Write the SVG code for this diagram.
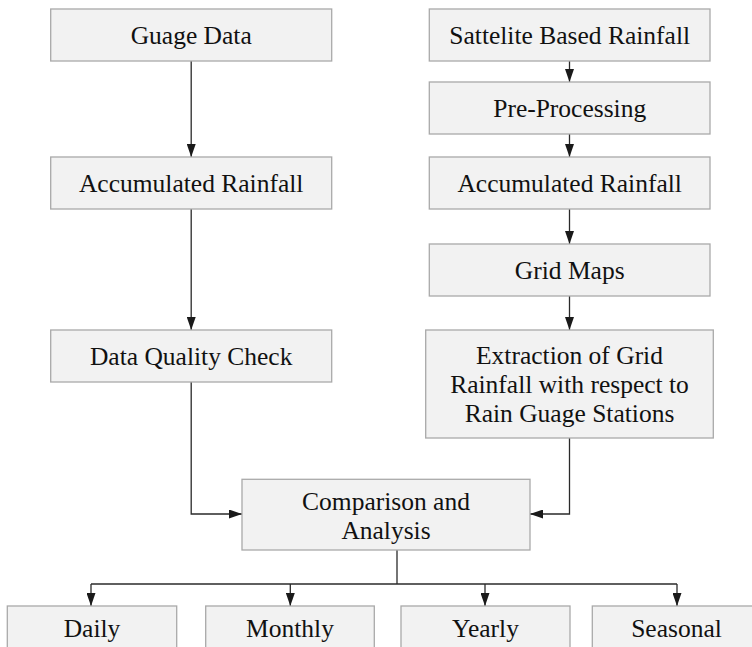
<svg xmlns="http://www.w3.org/2000/svg" width="752" height="647" viewBox="0 0 752 647">
  <defs>
    <marker id="arrow" markerUnits="userSpaceOnUse" markerWidth="13" markerHeight="9" refX="13" refY="4.5" orient="auto">
      <path d="M0,0 L13,4.5 L0,9 z" fill="#1a1a1a"/>
    </marker>
  </defs>
  <style>
    .box { fill: #f2f2f2; stroke: #a9a9a9; stroke-width: 1.3; }
    .conn { fill: none; stroke: #2a2a2a; stroke-width: 1.3; }
  </style>
  <rect width="752" height="647" fill="#ffffff"/>

  <!-- connectors -->
  <g id="connectors">
    <path class="conn" d="M191.2,61 V157" marker-end="url(#arrow)"/>
    <path class="conn" d="M191.2,209 V330" marker-end="url(#arrow)"/>
    <path class="conn" d="M191.2,382 V514 H242" marker-end="url(#arrow)"/>
    <path class="conn" d="M569.5,61 V82" marker-end="url(#arrow)"/>
    <path class="conn" d="M569.5,134 V157" marker-end="url(#arrow)"/>
    <path class="conn" d="M569.5,209 V244" marker-end="url(#arrow)"/>
    <path class="conn" d="M569.5,296 V330" marker-end="url(#arrow)"/>
    <path class="conn" d="M569.5,438 V514 H530" marker-end="url(#arrow)"/>
    <path class="conn" d="M397,550 V584"/>
    <path class="conn" d="M91,584 H677"/>
    <path class="conn" d="M91,584 V606" marker-end="url(#arrow)"/>
    <path class="conn" d="M290.3,584 V606" marker-end="url(#arrow)"/>
    <path class="conn" d="M485,584 V606" marker-end="url(#arrow)"/>
    <path class="conn" d="M677,584 V606" marker-end="url(#arrow)"/>
  </g>

  <g id="nodes" font-family="Liberation Serif" font-size="25.5" fill="#111" text-anchor="middle">
    <!-- gauge branch -->
    <g id="guage-data">
      <rect class="box" x="50.7" y="9" width="281" height="52"/>
      <text x="191.2" y="43.5">Guage Data</text>
    </g>
    <g id="accumulated-gauge">
      <rect class="box" x="50.7" y="157" width="281" height="52"/>
      <text x="191.2" y="191.5">Accumulated Rainfall</text>
    </g>
    <g id="quality-check">
      <rect class="box" x="50.7" y="330" width="281" height="52"/>
      <text x="191.2" y="364.5">Data Quality Check</text>
    </g>

    <!-- satellite branch -->
    <g id="satellite">
      <rect class="box" x="429.3" y="9" width="280.7" height="52"/>
      <text x="569.7" y="43.5">Sattelite Based Rainfall</text>
    </g>
    <g id="pre-processing">
      <rect class="box" x="429.3" y="82" width="280.7" height="52"/>
      <text x="569.7" y="116.5">Pre-Processing</text>
    </g>
    <g id="accumulated-satellite">
      <rect class="box" x="429.3" y="157" width="280.7" height="52"/>
      <text x="569.7" y="191.5">Accumulated Rainfall</text>
    </g>
    <g id="grid-maps">
      <rect class="box" x="429.3" y="244" width="280.7" height="52"/>
      <text x="569.7" y="278.5">Grid Maps</text>
    </g>
    <g id="extraction">
      <rect class="box" x="425.7" y="330" width="287.6" height="108"/>
      <text x="569.5" y="364">Extraction of Grid</text>
      <text x="569.5" y="393">Rainfall with respect to</text>
      <text x="569.5" y="422">Rain Guage Stations</text>
    </g>

    <!-- merge -->
    <g id="comparison">
      <rect class="box" x="242" y="479.3" width="288" height="70.7"/>
      <text x="386" y="510">Comparison and</text>
      <text x="386" y="539">Analysis</text>
    </g>

    <!-- time scales -->
    <g id="daily">
      <rect class="box" x="7.3" y="606" width="169.4" height="60"/>
      <text x="92" y="637">Daily</text>
    </g>
    <g id="monthly">
      <rect class="box" x="205.7" y="606" width="168.6" height="60"/>
      <text x="290" y="637">Monthly</text>
    </g>
    <g id="yearly">
      <rect class="box" x="401" y="606" width="169" height="60"/>
      <text x="485.5" y="637">Yearly</text>
    </g>
    <g id="seasonal">
      <rect class="box" x="592.3" y="606" width="168" height="60"/>
      <text x="676.5" y="637">Seasonal</text>
    </g>
  </g>
</svg>
